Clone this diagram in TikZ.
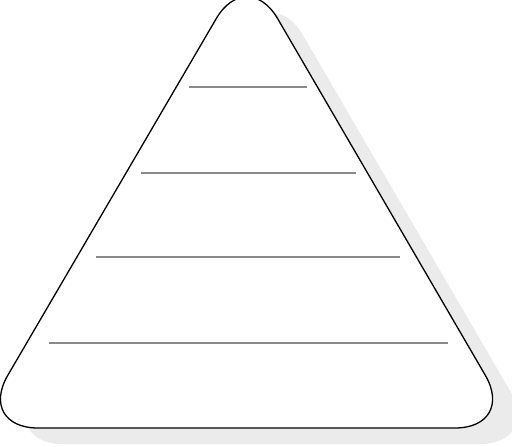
\documentclass[tikz,border=0pt]{standalone}
\definecolor{shadowgray}{HTML}{EBEBEB}
\definecolor{rulegray}{HTML}{8A8A8A}
\tikzset{
  pyramid/.style={rounded corners=61pt},
  pyrshadow/.style={pyramid, fill=shadowgray},
  pyrbody/.style={pyramid, fill=white, draw=black, line width=1.3pt},
  levelrule/.style={draw=rulegray, line width=1.2pt}
}
\begin{document}
\begin{tikzpicture}[x=1pt,y=-1pt]
\useasboundingbox (0,0) rectangle (512,447);
\coordinate (apex) at (247,-34);
\coordinate (br) at (516,428);
\coordinate (bl) at (-23,428);
\coordinate (sapex) at (272,-18);
\coordinate (sbr) at (541,444);
\coordinate (sbl) at (2,444);
\fill[pyrshadow] (sapex) -- (sbr) -- (sbl) -- cycle;
\draw[pyrbody] (apex) -- (br) -- (bl) -- cycle;
\coordinate (l1a) at (189,87);  \coordinate (l1b) at (307,87);
\coordinate (l2a) at (141,173); \coordinate (l2b) at (356,173);
\coordinate (l3a) at (96,257);  \coordinate (l3b) at (400,257);
\coordinate (l4a) at (49,343);  \coordinate (l4b) at (448,343);
\draw[levelrule] (l1a) -- (l1b);
\draw[levelrule] (l2a) -- (l2b);
\draw[levelrule] (l3a) -- (l3b);
\draw[levelrule] (l4a) -- (l4b);
\end{tikzpicture}
\end{document}
